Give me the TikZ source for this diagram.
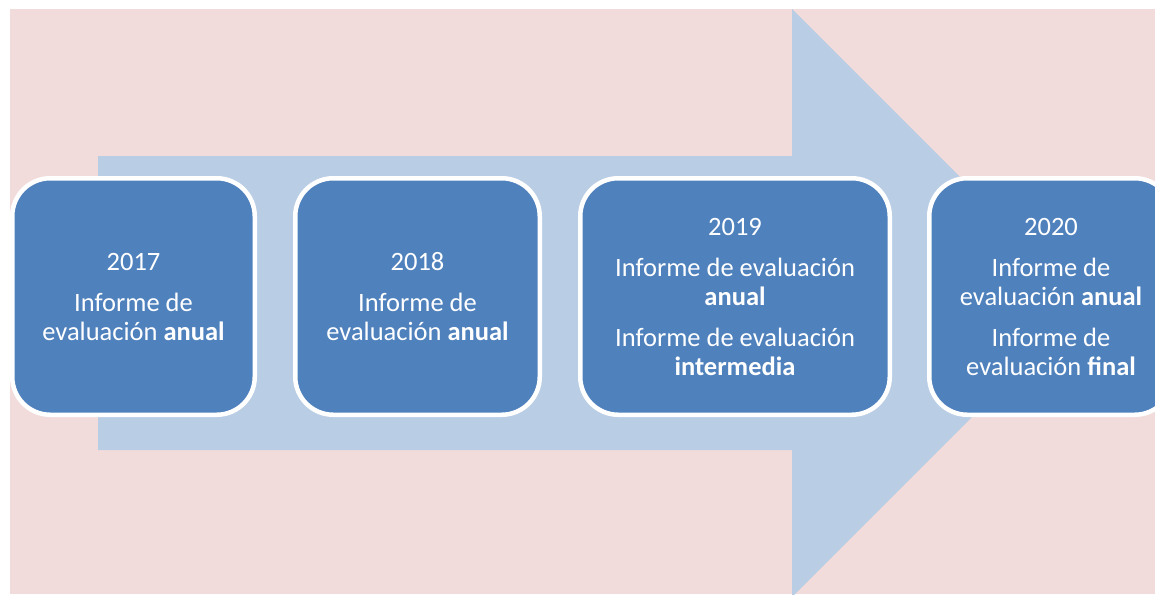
\documentclass[tikz,border=0pt]{standalone}
\usepackage{fontspec}
\setmainfont{Carlito}
\definecolor{bgpink}{HTML}{F2DCDB}
\definecolor{arrowblue}{HTML}{B9CDE5}
\definecolor{boxblue}{HTML}{4F81BD}
\begin{document}
\begin{tikzpicture}[x=1pt,y=-1pt,
  yearbox/.style={rounded corners=38pt, fill=boxblue, draw=white, line width=4.5pt,
    minimum height=236.5pt, inner sep=0pt, outer sep=0pt, align=center,
    text=white, font=\fontsize{26.5}{29}\selectfont}]
\useasboundingbox (0,0) rectangle (1155,594);
\fill[bgpink] (10,9) rectangle (1155,594);
\begin{scope}
\clip (10,9) rectangle (1155,594);
\fill[arrowblue] (98,156) -- (792,156) -- (792,9) -- (1086,303) -- (792,597) -- (792,450) -- (98,450) -- cycle;
\node[yearbox, minimum width=242.5pt] (y2017) at (133.5,296.5) {2017\\[12pt]Informe de\\evaluación \textbf{anual}};
\node[yearbox, minimum width=244.5pt] (y2018) at (417.5,296.5) {2018\\[12pt]Informe de\\evaluación \textbf{anual}};
\node[yearbox, minimum width=309.5pt] (y2019) at (735,296.5) {2019\\[12pt]Informe de evaluación\\\textbf{anual}\\[12pt]Informe de evaluación\\\textbf{intermedia}};
\node[yearbox, minimum width=243.5pt] (y2020) at (1051,296.5) {2020\\[12pt]Informe de\\evaluación \textbf{anual}\\[12pt]Informe de\\evaluación \textbf{final}};
\end{scope}
\end{tikzpicture}
\end{document}
